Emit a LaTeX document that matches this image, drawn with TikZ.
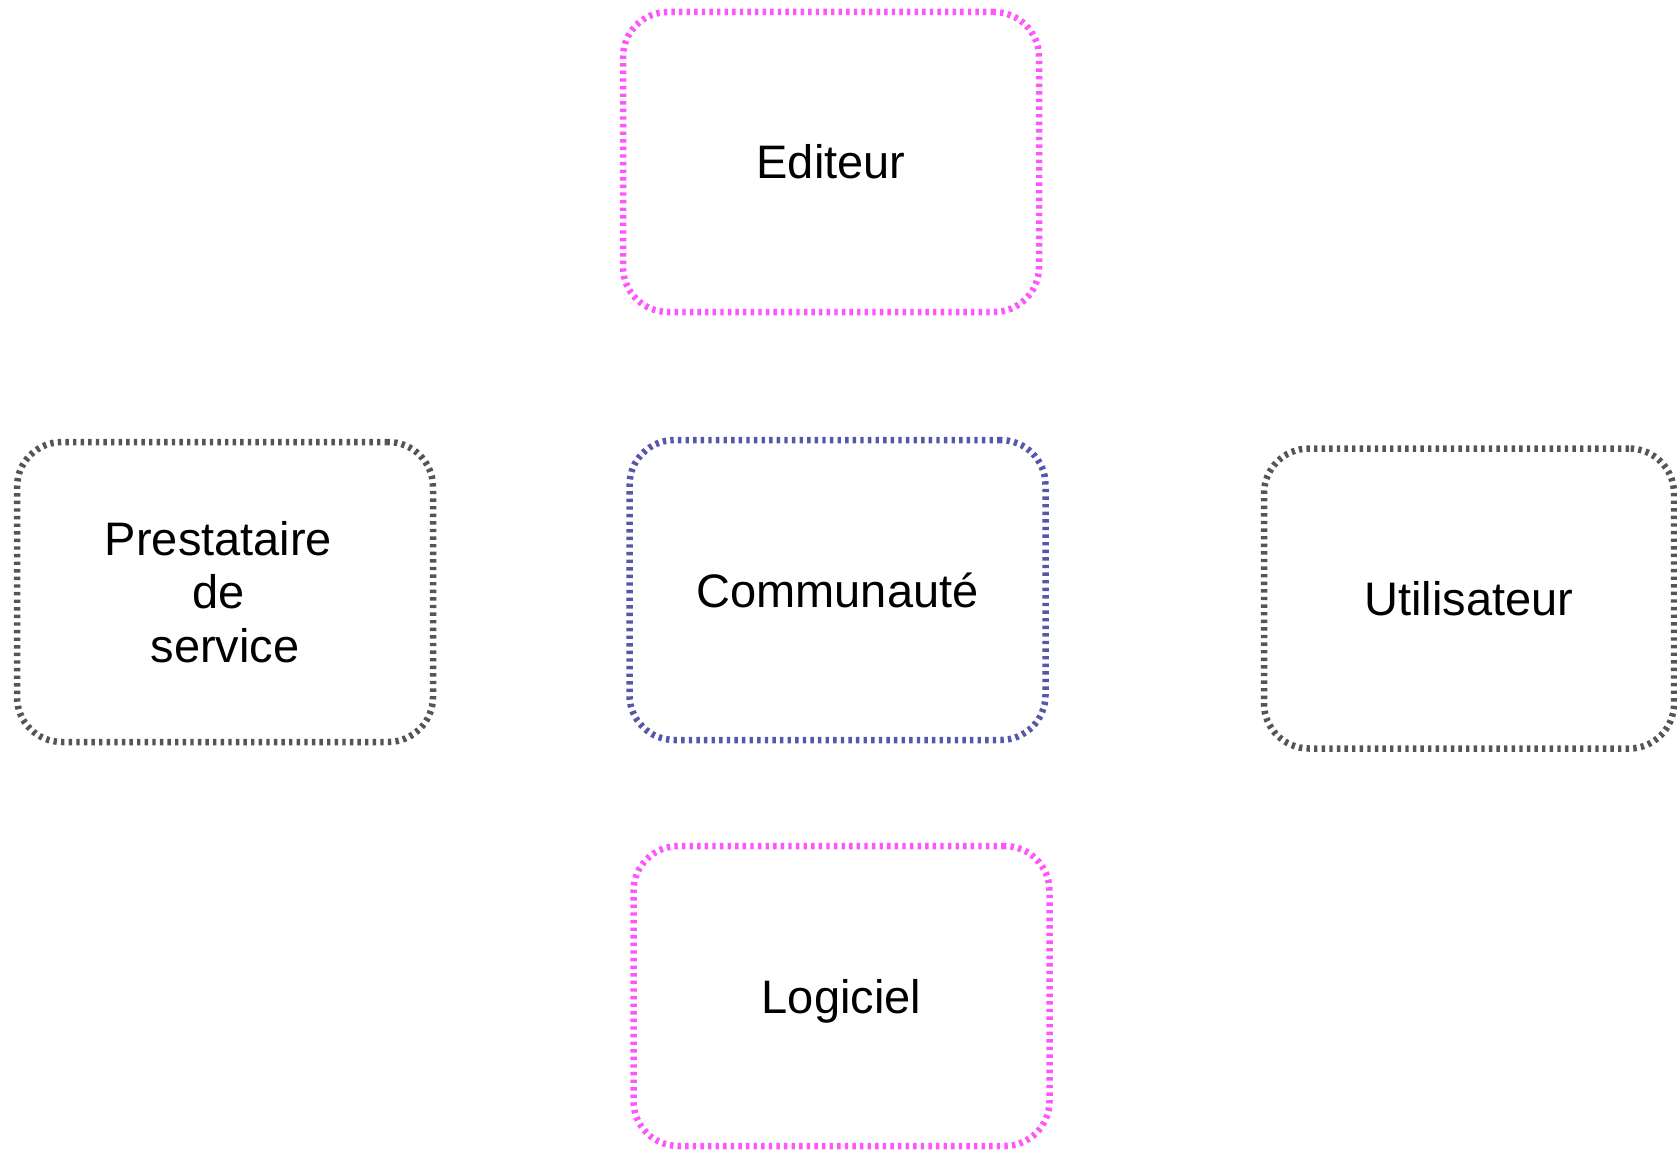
\documentclass[tikz,border=0pt]{standalone}
\usepackage{fontspec}
\setmainfont{Liberation Sans}
\begin{document}
\begin{tikzpicture}[x=1pt,y=-1pt,
  actor/.style={draw, rounded corners=45pt, line width=6.5pt,
    dash pattern=on 3.4pt off 4.2pt, minimum width=416pt, minimum height=300pt,
    inner sep=0pt, font=\fontsize{47}{53.5}\selectfont, align=center, text=black},
  pinkbox/.style={actor, draw=pinkc},
  bluebox/.style={actor, draw=bluec},
  graybox/.style={actor, draw=grayc}]
\definecolor{pinkc}{RGB}{255,85,255}
\definecolor{bluec}{RGB}{86,86,170}
\definecolor{grayc}{RGB}{85,85,85}
\useasboundingbox (0,0) rectangle (1677,1150);
\node[pinkbox] (editeur) at (831,162) {Editeur};
\node[graybox] (presta) at (225,592) {Prestataire\rule{13pt}{0pt}\\de\rule{13pt}{0pt}\\service};
\node[bluebox] (commu) at (837.5,590) {Communauté};
\node[graybox, minimum width=410pt] (util) at (1469,598.5) {Utilisateur};
\node[pinkbox] (logiciel) at (841.5,996) {\raisebox{-5.5pt}[\height][\depth]{Logiciel}};
\end{tikzpicture}
\end{document}
